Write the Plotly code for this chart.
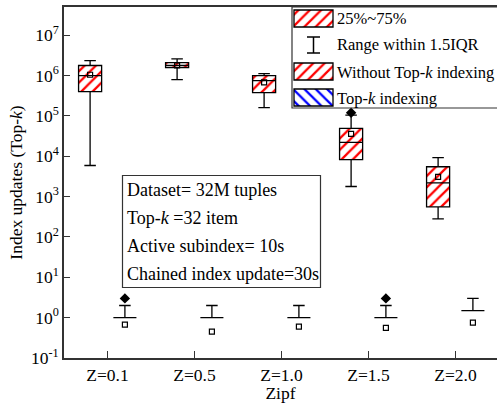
import plotly.graph_objects as go

# ---------------- data ----------------
categories = ["Z=0.1", "Z=0.5", "Z=1.0", "Z=1.5", "Z=2.0"]

# Without Top-k indexing
wo_q1 = [4.0e5, 1.58e6, 3.8e5, 8.3e3, 5.6e2]
wo_median = [1.0e6, 1.78e6, 7.5e5, 2.2e4, 2.2e3]
wo_q3 = [1.78e6, 2.1e6, 1.0e6, 4.9e4, 5.5e3]
wo_low = [5.9e3, 7.9e5, 1.6e5, 1.78e3, 2.8e2]
wo_high = [2.35e6, 2.6e6, 1.12e6, 1.05e5, 9.3e3]
wo_mean = [1.05e6, 1.78e6, 6.8e5, 3.6e4, 3.1e3]
wo_outlier_cat = [3]
wo_outlier_val = [1.2e5]

# Top-k indexing
tk_q1 = [1, 1, 1, 1, 1.5]
tk_median = [1, 1, 1, 1, 1.5]
tk_q3 = [1, 1, 1, 1, 1.5]
tk_low = [1, 1, 1, 1, 1.5]
tk_high = [2, 2, 2, 2, 3]
tk_mean = [0.67, 0.45, 0.6, 0.56, 0.75]
tk_outlier_cat = [0, 3]
tk_outlier_val = [3, 3]

legend_labels = ["25%~75%", "Range within 1.5IQR",
                 "Without Top-<i>k</i> indexing", "Top-<i>k</i> indexing"]
info_lines = ["Dataset= 32M tuples", "Top-<i>k</i> =32 item",
              "Active subindex= 10s", "Chained index update=30s"]

# ---------------- layout constants ----------------
W, H = 497, 403
ML, MT, MB, MR = 64, 7, 45, 0
PW, PH = W - ML - MR, H - MT - MB
FONT = "Liberation Serif"
FS = 17.5
OFF = 0.2
BW = 0.265

def px_x(p):
    return (p - ML) / PW

def px_y(p):
    return (H - MB - p) / PH

idx = list(range(len(categories)))
wo_x = [i - OFF for i in idx]
tk_x = [i + OFF for i in idx]

red_pat = dict(shape="/", fgcolor="#ff0000", bgcolor="white", size=8, solidity=0.28, fgopacity=1)
blue_pat = dict(shape="\\", fgcolor="#0000ff", bgcolor="white", size=8, solidity=0.28, fgopacity=1)

fig = go.Figure()

# hatched IQR fills
fig.add_trace(go.Bar(
    x=wo_x, y=[b - a for a, b in zip(wo_q1, wo_q3)], base=wo_q1, width=BW,
    marker=dict(color="white", pattern=red_pat, line=dict(width=0)),
    showlegend=False, hoverinfo="skip"))
fig.add_trace(go.Bar(
    x=tk_x, y=[b - a for a, b in zip(tk_q1, tk_q3)], base=tk_q1, width=BW,
    marker=dict(color="white", pattern=blue_pat, line=dict(width=0)),
    showlegend=False, hoverinfo="skip"))

# box outlines, medians and whiskers
box_style = dict(width=BW, fillcolor="rgba(0,0,0,0)", whiskerwidth=0.5,
                 line=dict(color="black", width=1.3), boxpoints=False,
                 showlegend=False, hoverinfo="skip")
fig.add_trace(go.Box(x=wo_x, q1=wo_q1, median=wo_median, q3=wo_q3,
                     lowerfence=wo_low, upperfence=wo_high, **box_style))
fig.add_trace(go.Box(x=tk_x, q1=tk_q1, median=tk_median, q3=tk_q3,
                     lowerfence=tk_low, upperfence=tk_high, **box_style))

# means
mean_marker = dict(symbol="square-open", size=5, color="black", line=dict(width=1.2))
fig.add_trace(go.Scatter(x=wo_x, y=wo_mean, mode="markers", marker=mean_marker,
                         showlegend=False, hoverinfo="skip"))
fig.add_trace(go.Scatter(x=tk_x, y=tk_mean, mode="markers", marker=mean_marker,
                         showlegend=False, hoverinfo="skip"))

# outliers
out_marker = dict(symbol="diamond", size=8, color="black")
fig.add_trace(go.Scatter(x=[c - OFF for c in wo_outlier_cat], y=wo_outlier_val,
                         mode="markers", marker=out_marker, showlegend=False, hoverinfo="skip"))
fig.add_trace(go.Scatter(x=[c + OFF for c in tk_outlier_cat], y=tk_outlier_val,
                         mode="markers", marker=out_marker, showlegend=False, hoverinfo="skip"))

# ---------------- custom legend (pixel-space overlay axes) ----------------
sw_x0, sw_x1 = 294, 333
sw_tops = [10, 63, 89]
sw_h = 17
sw_pats = [red_pat, red_pat, blue_pat]
for top, pat in zip(sw_tops, sw_pats):
    fig.add_trace(go.Bar(
        x=[(sw_x0 + sw_x1) / 2], y=[sw_h], base=[top], width=sw_x1 - sw_x0,
        marker=dict(color="white", pattern=pat, line=dict(color="black", width=1.3)),
        xaxis="x2", yaxis="y2", showlegend=False, hoverinfo="skip"))

shapes = []
# I-beam symbol
ib_x, ib_y0, ib_y1, cap = 313.5, 37, 53, 6.5
for seg in [((ib_x, ib_y0), (ib_x, ib_y1)), ((ib_x - cap, ib_y0), (ib_x + cap, ib_y0)),
            ((ib_x - cap, ib_y1), (ib_x + cap, ib_y1))]:
    shapes.append(dict(type="line", xref="x2", yref="y2",
                       x0=seg[0][0], y0=seg[0][1], x1=seg[1][0], y1=seg[1][1],
                       line=dict(color="black", width=1.5)))
# legend border
shapes.append(dict(type="rect", xref="paper", yref="paper",
                   x0=px_x(292), x1=px_x(520), y0=px_y(108), y1=px_y(7),
                   line=dict(color="#333", width=1.2), fillcolor="rgba(0,0,0,0)"))
# info box border
shapes.append(dict(type="rect", xref="paper", yref="paper",
                   x0=px_x(122.5), x1=px_x(320.5), y0=px_y(287.5), y1=px_y(175.5),
                   line=dict(color="#333", width=1.2), fillcolor="white", layer="below"))

annotations = []
leg_y = [18.5, 45, 72, 98]
for txt, yy in zip(legend_labels, leg_y):
    annotations.append(dict(text=txt, xref="paper", yref="paper", x=px_x(334.5), y=px_y(yy),
                            xanchor="left", yanchor="middle", showarrow=False,
                            font=dict(family=FONT, size=16.5, color="black")))
info_y = [190, 218, 246, 274]
for txt, yy in zip(info_lines, info_y):
    annotations.append(dict(text=txt, xref="paper", yref="paper", x=px_x(124.5), y=px_y(yy),
                            xanchor="left", yanchor="middle", showarrow=False,
                            font=dict(family=FONT, size=18, color="black")))

decades = [-1, 0, 1, 2, 3, 4, 5, 6, 7]
ytickvals = [10.0 ** d for d in decades]
yticktext = ["10<sup>%d</sup>" % d for d in decades]

fig.update_layout(
    width=W, height=H,
    margin=dict(l=ML, r=MR, t=MT, b=MB, autoexpand=False),
    paper_bgcolor="white", plot_bgcolor="white",
    font=dict(family=FONT, size=FS, color="black"),
    barmode="overlay", boxmode="overlay",
    showlegend=False,
    xaxis=dict(range=[-0.5, 4.477], tickvals=idx, ticktext=categories,
               ticks="inside", ticklen=7, tickwidth=1.2, tickcolor="#333",
               showline=True, linecolor="#333", linewidth=1.5, mirror=True,
               showgrid=False, zeroline=False,
               title=dict(text="Zipf", standoff=1, font=dict(size=FS))),
    yaxis=dict(type="log", range=[-1, 7.70], tickvals=ytickvals, ticktext=yticktext,
               ticks="inside", ticklen=6, tickwidth=1.2, tickcolor="#333",
               showline=True, linecolor="#333", linewidth=1.5, mirror=False,
               showgrid=False, zeroline=False,
               title=dict(text="Index updates (Top-<i>k</i>)", standoff=4, font=dict(size=FS))),
    xaxis2=dict(overlaying="x", range=[ML, W - MR], visible=False),
    yaxis2=dict(overlaying="y", range=[H - MB, MT], visible=False),
    shapes=shapes, annotations=annotations,
)

fig.write_html("out.html")
